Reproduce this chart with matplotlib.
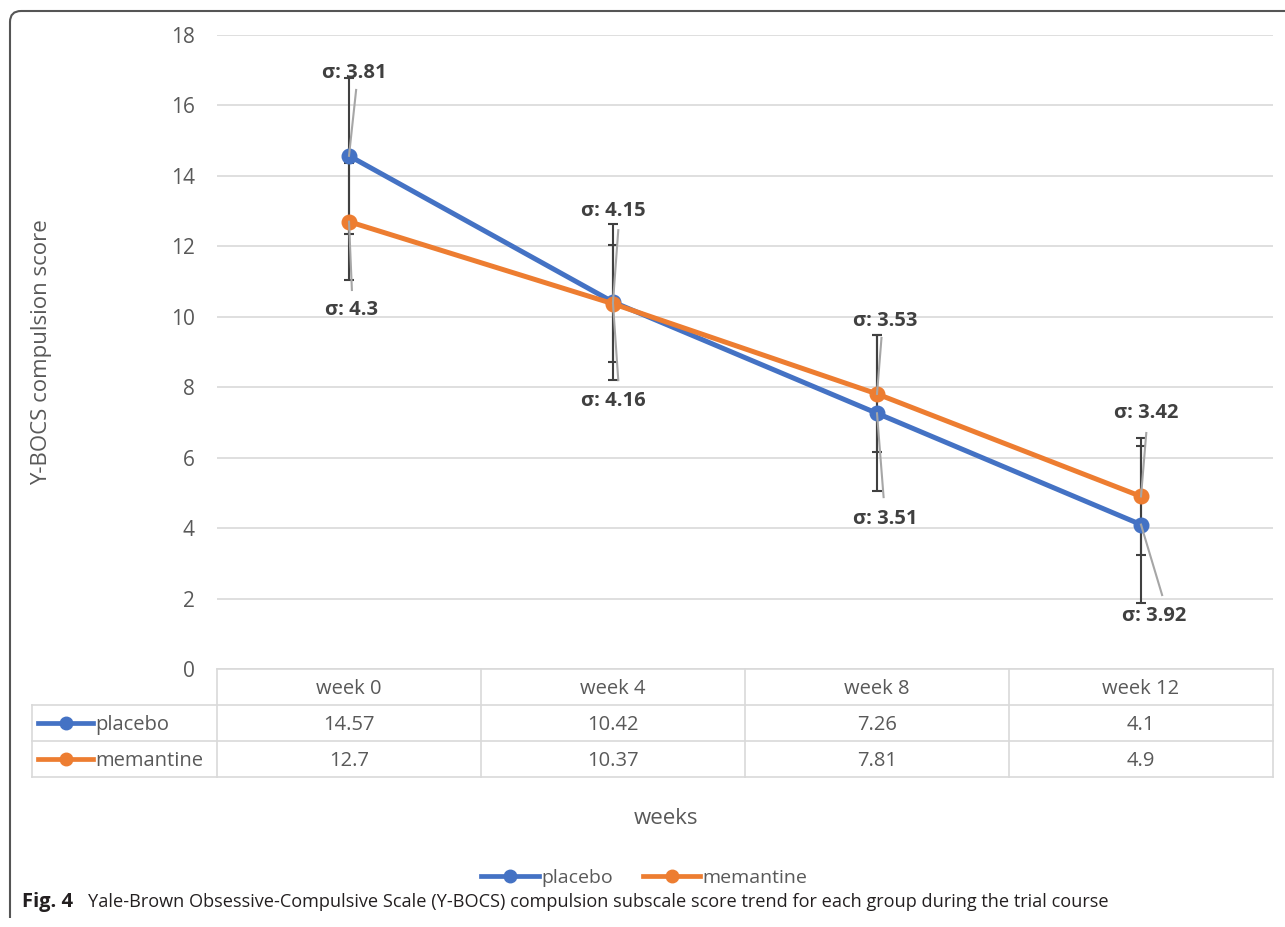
import matplotlib
matplotlib.use("Agg")
import matplotlib.pyplot as plt
from matplotlib.lines import Line2D
from matplotlib.path import Path
from matplotlib.patches import PathPatch
from matplotlib.transforms import blended_transform_factory

# ---------------- data ----------------
weeks = ["week 0", "week 4", "week 8", "week 12"]
placebo = [14.57, 10.42, 7.26, 4.1]
memantine = [12.7, 10.37, 7.81, 4.9]
placebo_err = [2.22, 2.22, 2.22, 2.22]
memantine_err = [1.66, 1.66, 1.66, 1.66]
placebo_sigma = ["3.81", "4.15", "3.51", "3.92"]
memantine_sigma = ["4.3", "4.16", "3.53", "3.42"]
yticks = [0, 2, 4, 6, 8, 10, 12, 14, 16, 18]

# label placement (style)
placebo_lab_pos = [(0.02, 16.92), (1.0, 13.0), (2.03, 4.26), (3.05, 1.5)]
memantine_lab_pos = [(0.01, 10.19), (1.0, 7.61), (2.03, 9.88), (3.02, 7.27)]
placebo_lead = [(0.027, 16.44), (1.02, 12.46), (2.025, 4.88), (3.08, 2.1)]
memantine_lead = [(0.011, 10.76), (1.02, 8.2), (2.017, 9.4), (3.02, 6.7)]

BLUE = "#4472C4"
ORANGE = "#ED7D31"
GRID = "#d9d9d9"
TXT = "#595959"
DARK = "#404040"
FONT = "Open Sans"

W, H = 1285, 927
fig = plt.figure(figsize=(W / 100, H / 100), dpi=100)
fig.patch.set_facecolor("white")

def fx(px):
    return px / W

def fy(py):
    return 1 - py / H

ax_l, ax_r, ax_t, ax_b = 217, 1273, 35, 669
ax = fig.add_axes([fx(ax_l), fy(ax_b), fx(ax_r - ax_l), (ax_b - ax_t) / H])
x = list(range(len(weeks)))
ax.set_xlim(-0.5, len(weeks) - 0.5)
ax.set_ylim(0, 18)
for s in ax.spines.values():
    s.set_visible(False)
ax.set_xticks([])
ax.set_yticks(yticks)
ax.set_yticklabels([str(t) for t in yticks], fontsize=15, color=TXT, family=FONT)
ax.tick_params(axis="y", length=0, pad=16)
for t in yticks:
    ax.axhline(t, color=GRID, lw=1.2, zorder=0)

# error bars
ax.errorbar(x, placebo, yerr=placebo_err, fmt="none", ecolor=DARK, elinewidth=1.5,
            capsize=3.8, capthick=1.5, zorder=2)
ax.errorbar(x, memantine, yerr=memantine_err, fmt="none", ecolor=DARK, elinewidth=1.5,
            capsize=3.8, capthick=1.5, zorder=2)

# series
ax.plot(x, placebo, color=BLUE, lw=3.6, marker="o", ms=10.5, zorder=3)
ax.plot(x, memantine, color=ORANGE, lw=3.6, marker="o", ms=10.5, zorder=4)

# leader lines and sigma labels
for i in range(len(weeks)):
    for vals, lead, pos, sig in ((placebo, placebo_lead, placebo_lab_pos, placebo_sigma),
                                 (memantine, memantine_lead, memantine_lab_pos, memantine_sigma)):
        ax.plot([lead[i][0], x[i]], [lead[i][1], vals[i]], color="#a6a6a6", lw=1.5, zorder=5)
        ax.text(pos[i][0], pos[i][1], "σ: " + sig[i], ha="center", va="center",
                fontsize=14.5, fontweight="bold", color=DARK, family=FONT, zorder=6)

# ---------------- data table ----------------
tr = blended_transform_factory(ax.transData, fig.transFigure)
rows_y = [669, 705, 741, 777]
tab_left = 32
bounds_px = [ax_l + (ax_r - ax_l) * k / len(weeks) for k in range(len(weeks) + 1)]
lk = dict(color=GRID, lw=1.2, transform=fig.transFigure, clip_on=False)
for yy in rows_y[1:]:
    fig.add_artist(Line2D([fx(tab_left), fx(ax_r)], [fy(yy), fy(yy)], **lk))
fig.add_artist(Line2D([fx(ax_l), fx(ax_r)], [fy(rows_y[0]), fy(rows_y[0])], **lk))
fig.add_artist(Line2D([fx(tab_left), fx(tab_left)], [fy(rows_y[1]), fy(rows_y[3])], **lk))
for bx in bounds_px:
    fig.add_artist(Line2D([fx(bx), fx(bx)], [fy(rows_y[0]), fy(rows_y[3])], **lk))

TS = 14.5
for i, wk in enumerate(weeks):
    ax.text(x[i], fy(689), wk, transform=tr, ha="center", va="center",
            fontsize=TS, color=TXT, family=FONT, clip_on=False)
    ax.text(x[i], fy(725), f"{placebo[i]:g}", transform=tr, ha="center", va="center",
            fontsize=TS, color=TXT, family=FONT, clip_on=False)
    ax.text(x[i], fy(761), f"{memantine[i]:g}", transform=tr, ha="center", va="center",
            fontsize=TS, color=TXT, family=FONT, clip_on=False)

def key(x0, x1, yy, color, label, fs=TS, dy=2):
    fig.add_artist(Line2D([fx(x0), fx(x1)], [fy(yy), fy(yy)], color=color, lw=3.4,
                          transform=fig.transFigure))
    fig.add_artist(Line2D([fx((x0 + x1) / 2)], [fy(yy)], color=color, marker="o", ms=9,
                          transform=fig.transFigure, lw=0))
    fig.text(fx(x1 + 2), fy(yy + dy), label, ha="left", va="center", fontsize=fs,
             color=TXT, family=FONT)

key(38, 93, 723, BLUE, "placebo")
key(38, 93, 759, ORANGE, "memantine")

# axis titles
fig.text(fx(42), fy(352), "Y-BOCS compulsion score", rotation=90, ha="center",
         va="center", fontsize=16, color=TXT, family=FONT)
fig.text(fx(666), fy(818), "weeks", ha="center", va="center", fontsize=16,
         color=TXT, family=FONT)

# legend
key(481, 539, 876, BLUE, "placebo", fs=14)
key(643, 700, 876, ORANGE, "memantine", fs=14)

# caption
fig.text(fx(22), fy(902), "Fig. 4", ha="left", va="center", fontsize=14.5,
         fontweight="bold", color="#231f20", family="Open Sans")
fig.text(fx(88), fy(902),
         "Yale-Brown Obsessive-Compulsive Scale (Y-BOCS) compulsion subscale score trend for each group during the trial course",
         ha="left", va="center", fontsize=13.1, color="#231f20", family="Open Sans")

# outer frame with rounded top-left corner
r = 11
verts = [(fx(10), fy(918)), (fx(10), fy(11 + r)), (fx(10), fy(11)), (fx(10 + r), fy(11)),
         (fx(1300), fy(11))]
codes = [Path.MOVETO, Path.LINETO, Path.CURVE3, Path.CURVE3, Path.LINETO]
fig.add_artist(PathPatch(Path(verts, codes), facecolor="none", edgecolor="#555555",
                         lw=1.5, transform=fig.transFigure))

fig.savefig("out.png", dpi=100, facecolor="white")
